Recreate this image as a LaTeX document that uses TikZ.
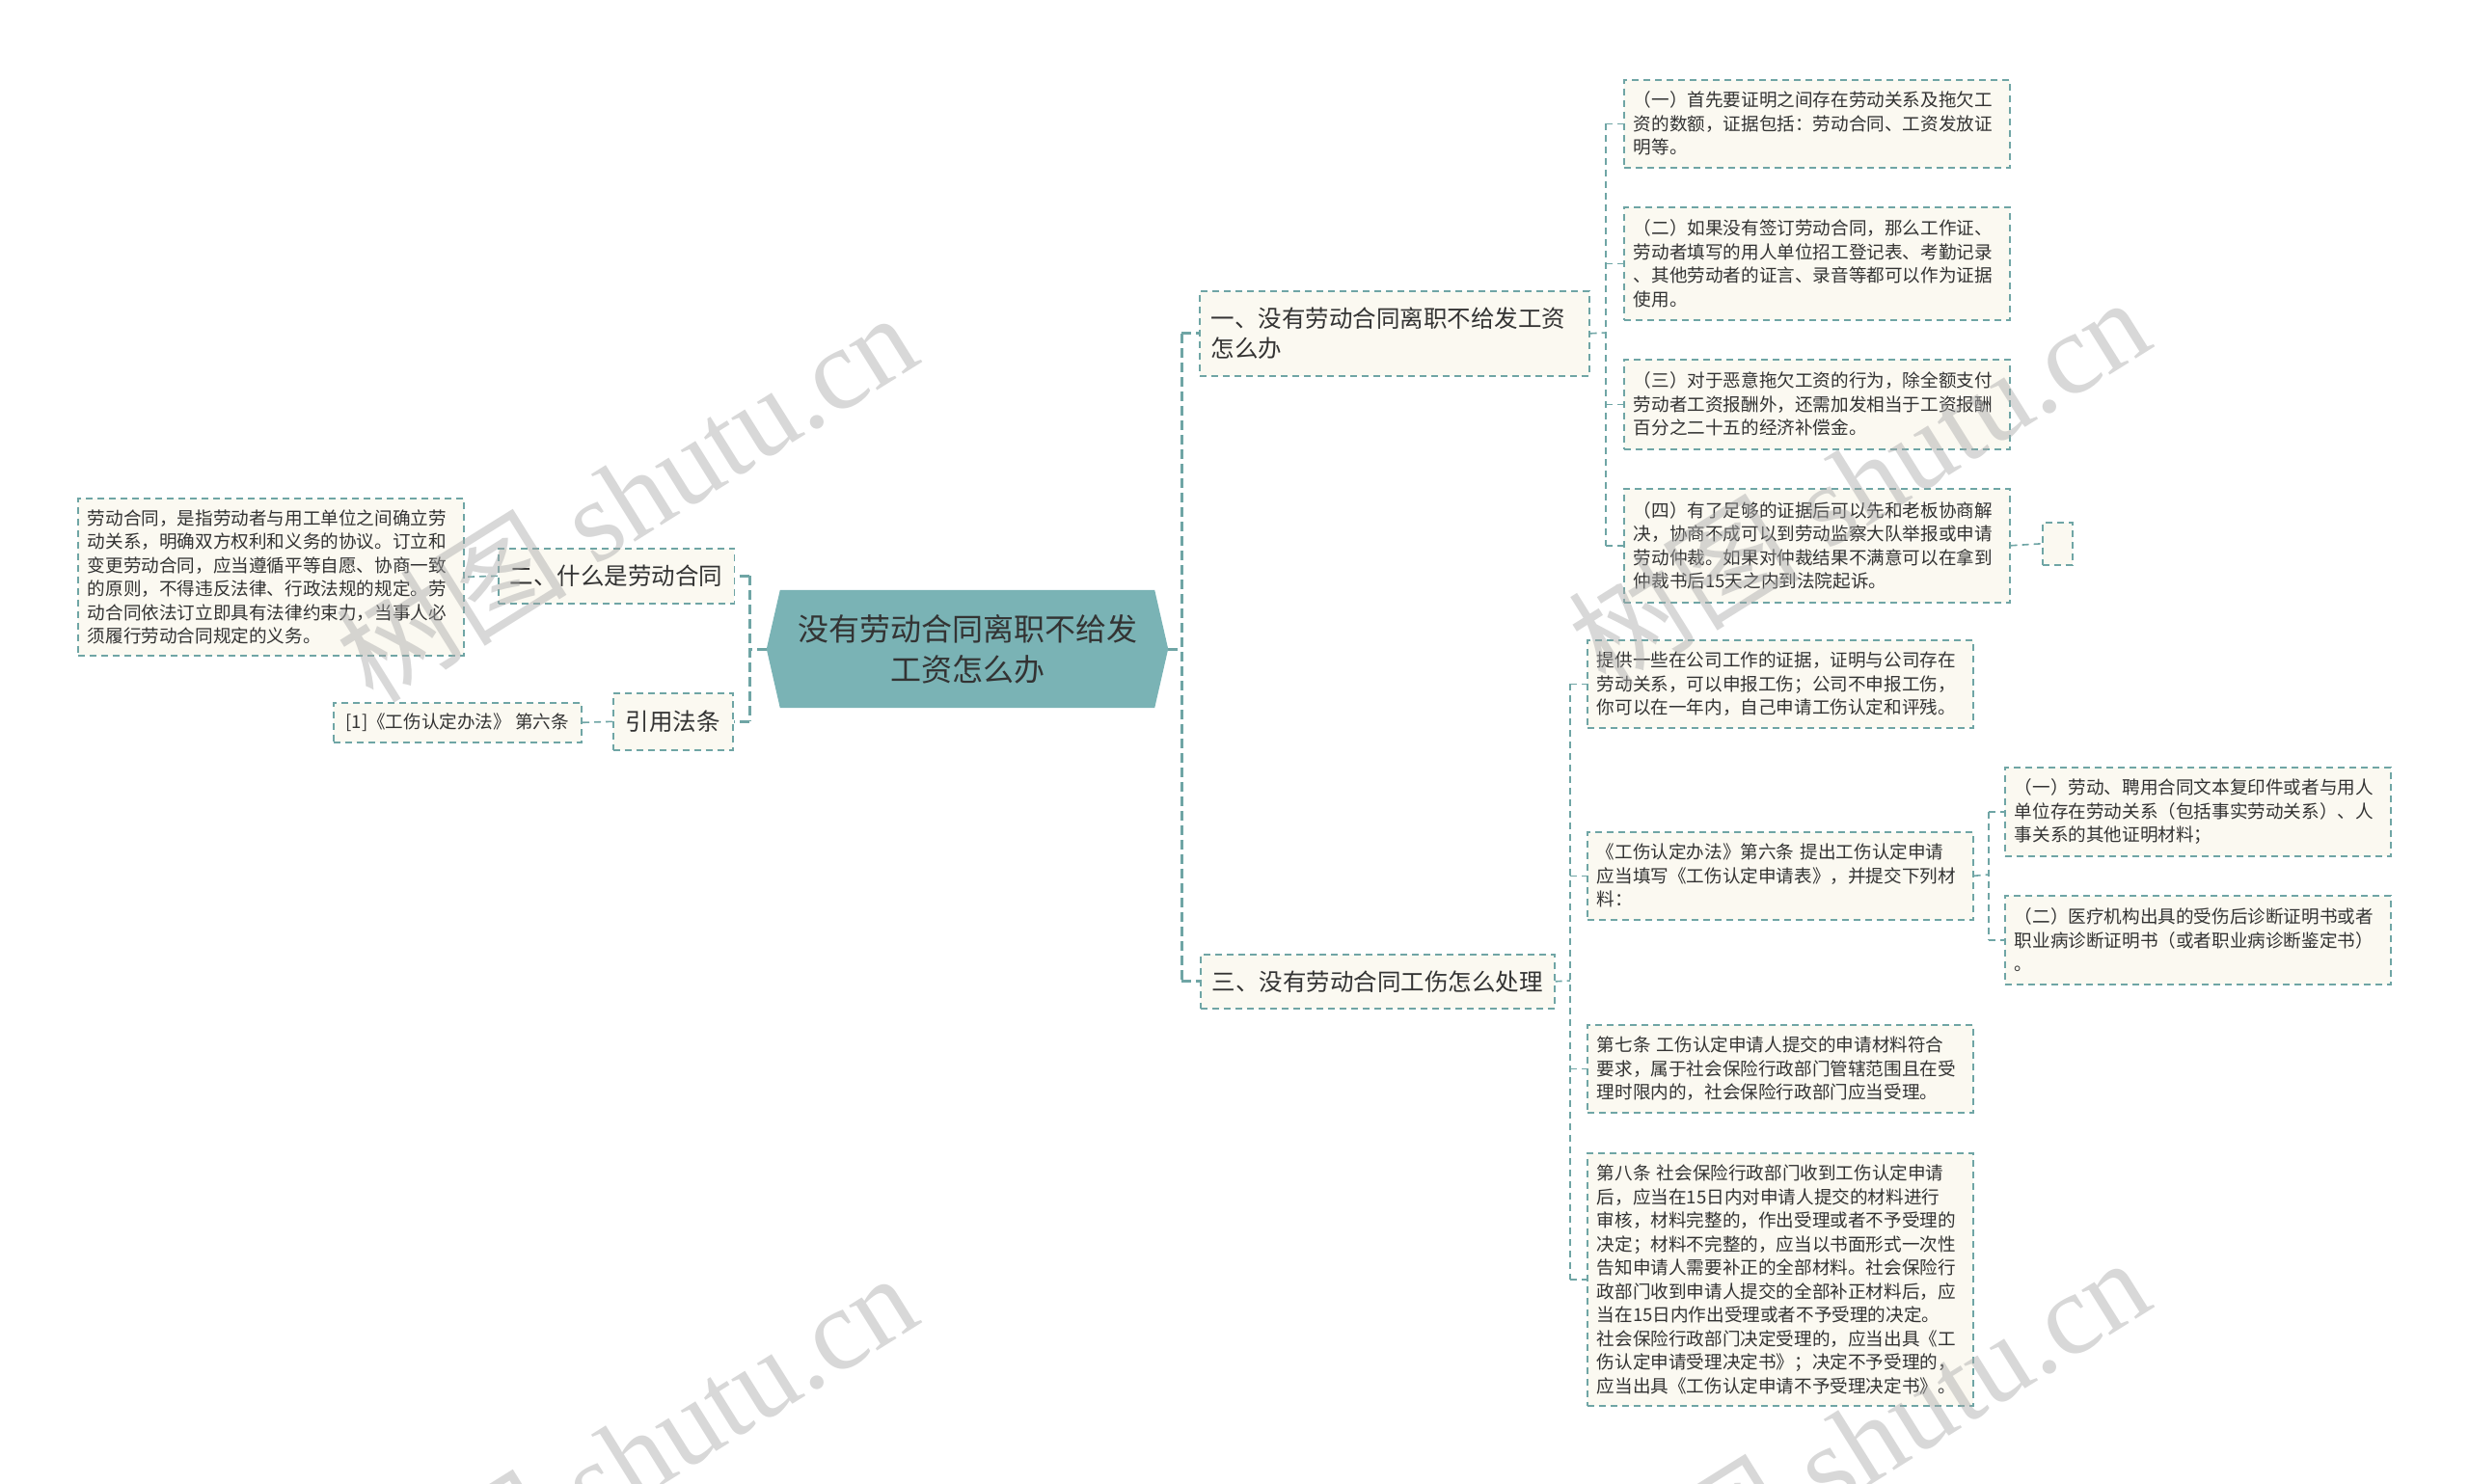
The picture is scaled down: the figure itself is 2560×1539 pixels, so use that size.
\documentclass[tikz,border=0pt]{standalone}
\usepackage{fontspec}
\usetikzlibrary{backgrounds}
\newfontfamily\cjk{Noto Sans CJK SC}
\newfontfamily\wmserif{Liberation Serif}
\definecolor{rootfill}{HTML}{7AB3B5}
\definecolor{lnc}{HTML}{6FA5A5}
\definecolor{boxfill}{HTML}{FBF9F1}
\definecolor{txt}{HTML}{333333}
\definecolor{wmc}{HTML}{A8A8A8}
\tikzset{
  x=1pt, y=-1pt,
  boxbase/.style={draw=lnc, fill=boxfill, dash pattern=on 7pt off 5pt, line width=1.6pt, text=txt, anchor=north west, inner ysep=0pt},
  leaf/.style={boxbase, align=left, inner xsep=10pt, font=\cjk\fontsize{18.6}{24.5}\selectfont},
  sub/.style={boxbase, align=left, inner xsep=12pt, font=\cjk\fontsize{24.5}{31}\selectfont},
  thinln/.style={draw=lnc, dash pattern=on 7pt off 5pt, line width=1.6pt},
  thickln/.style={draw=lnc, dash pattern=on 10pt off 5pt, line width=3pt},
  wmark/.style={text=wmc, opacity=0.45, rotate=32, inner sep=0pt},
}
\begin{document}
\begin{tikzpicture}
\useasboundingbox (0,0) rectangle (2560,1539);

% central
\node[minimum width=416pt, minimum height=122pt, inner sep=0pt, align=center, text=txt,
      font=\cjk\fontsize{32}{42}\selectfont] (root) at (1003,673) {没有劳动合同离职不给发\\工资怎么办};
\begin{scope}[on background layer]
\fill[rootfill] ([xshift=14pt]root.north west) -- ([xshift=-14pt]root.north east) -- (root.east)
  -- ([xshift=-14pt]root.south east) -- ([xshift=14pt]root.south west) -- (root.west) -- cycle;
\end{scope}

% right branch 1
\node[sub, text width=380pt, minimum height=88pt] (b1) at (1243,301) {一、没有劳动合同离职不给发工资\\怎么办};
\node[leaf, text width=380pt, minimum height=91pt] (a1) at (1683,82) {（一）首先要证明之间存在劳动关系及拖欠工\\资的数额，证据包括：劳动合同、工资发放证\\明等。};
\node[leaf, text width=380pt, minimum height=117pt] (a2) at (1683,214) {（二）如果没有签订劳动合同，那么工作证、\\劳动者填写的用人单位招工登记表、考勤记录\\、其他劳动者的证言、录音等都可以作为证据\\使用。};
\node[leaf, text width=380pt, minimum height=93pt] (a3) at (1683,372) {（三）对于恶意拖欠工资的行为，除全额支付\\劳动者工资报酬外，还需加发相当于工资报酬\\百分之二十五的经济补偿金。};
\node[leaf, text width=380pt, minimum height=118pt] (a4) at (1683,506) {（四）有了足够的证据后可以先和老板协商解\\决，协商不成可以到劳动监察大队举报或申请\\劳动仲裁。如果对仲裁结果不满意可以在拿到\\仲裁书后15天之内到法院起诉。};
\node[boxbase, minimum width=31pt, minimum height=44pt, inner sep=0pt] (e1) at (2117,541) {};

% right branch 3
\node[sub, minimum width=366pt, minimum height=56pt, align=center] (b3) at (1244,989) {三、没有劳动合同工伤怎么处理};
\node[leaf, text width=380pt, minimum height=91pt] (c1) at (1645,663) {提供一些在公司工作的证据，证明与公司存在\\劳动关系，可以申报工伤；公司不申报工伤，\\你可以在一年内，自己申请工伤认定和评残。};
\node[leaf, text width=380pt, minimum height=91pt] (c2) at (1645,862) {《工伤认定办法》第六条 提出工伤认定申请\\应当填写《工伤认定申请表》，并提交下列材\\料：};
\node[leaf, text width=380pt, minimum height=92pt] (d1) at (2078,795) {（一）劳动、聘用合同文本复印件或者与用人\\单位存在劳动关系（包括事实劳动关系）、人\\事关系的其他证明材料；};
\node[leaf, text width=380pt, minimum height=92pt] (d2) at (2078,928) {（二）医疗机构出具的受伤后诊断证明书或者\\职业病诊断证明书（或者职业病诊断鉴定书）\\。};
\node[leaf, text width=380pt, minimum height=91pt] (c3) at (1645,1062) {第七条 工伤认定申请人提交的申请材料符合\\要求，属于社会保险行政部门管辖范围且在受\\理时限内的，社会保险行政部门应当受理。};
\node[leaf, text width=380pt, minimum height=262pt] (c4) at (1645,1195) {第八条 社会保险行政部门收到工伤认定申请\\后，应当在15日内对申请人提交的材料进行\\审核，材料完整的，作出受理或者不予受理的\\决定；材料不完整的，应当以书面形式一次性\\告知申请人需要补正的全部材料。社会保险行\\政部门收到申请人提交的全部补正材料后，应\\当在15日内作出受理或者不予受理的决定。\\社会保险行政部门决定受理的，应当出具《工\\伤认定申请受理决定书》；决定不予受理的，\\应当出具《工伤认定申请不予受理决定书》。};

% left branches
\node[sub, minimum width=243pt, minimum height=57pt, align=center] (l1) at (516,568) {二、什么是劳动合同};
\node[leaf, text width=380pt, minimum height=163pt] (lc1) at (80,516) {劳动合同，是指劳动者与用工单位之间确立劳\\动关系，明确双方权利和义务的协议。订立和\\变更劳动合同，应当遵循平等自愿、协商一致\\的原则，不得违反法律、行政法规的规定。劳\\动合同依法订立即具有法律约束力，当事人必\\须履行劳动合同规定的义务。};
\node[sub, minimum width=124pt, minimum height=59pt, align=center] (l2) at (635,718) {引用法条};
\node[leaf, minimum width=257pt, minimum height=41pt, align=center] (lc2) at (345,728) {[1]《工伤认定办法》 第六条};

% junctions
\coordinate (jr) at (1225,673);
\coordinate (jl) at (777,673);
\coordinate (ja) at (1665,345);
\coordinate (jc) at (1628,1017);
\coordinate (jd) at (2062,907);

% trunk connectors
\draw[thickln] (root.east) -- (jr);
\draw[thickln] (jr |- b1.west) -- (jr |- b3.west);
\draw[thickln] (jr |- b1.west) -- (b1.west);
\draw[thickln] (jr |- b3.west) -- (b3.west);
\draw[thickln] (root.west) -- (jl);
\draw[thickln] (jl |- l1.east) -- (jl |- l2.east);
\draw[thickln] (jl |- l1.east) -- (l1.east);
\draw[thickln] (jl |- l2.east) -- (l2.east);

% branch 1 children
\draw[thinln] (b1.east) -- (ja);
\draw[thinln] (ja |- a1.west) -- (ja |- a4.west);
\foreach \n in {a1,a2,a3,a4} \draw[thinln] (ja |- \n.west) -- (\n.west);
\draw[thinln] (a4.east) -- (e1.west);

% branch 3 children
\draw[thinln] (b3.east) -- (jc);
\draw[thinln] (jc |- c1.west) -- (jc |- c4.west);
\foreach \n in {c1,c2,c3,c4} \draw[thinln] (jc |- \n.west) -- (\n.west);
\draw[thinln] (c2.east) -- (jd);
\draw[thinln] (jd |- d1.west) -- (jd |- d2.west);
\foreach \n in {d1,d2} \draw[thinln] (jd |- \n.west) -- (\n.west);

% left children
\draw[thinln] (l1.west) -- (lc1.east);
\draw[thinln] (l2.west) -- (lc2.east);

% watermarks
\node[wmark] (wm1) at (649,514) {\cjk\fontsize{120}{120}\selectfont 树图\wmserif\ shutu.cn};
\node[wmark] (wm2) at (1927,498) {\cjk\fontsize{120}{120}\selectfont 树图\wmserif\ shutu.cn};
\node[wmark] (wm3) at (649,1510) {\cjk\fontsize{120}{120}\selectfont 树图\wmserif\ shutu.cn};
\node[wmark] (wm4) at (1927,1494) {\cjk\fontsize{120}{120}\selectfont 树图\wmserif\ shutu.cn};
\end{tikzpicture}
\end{document}
